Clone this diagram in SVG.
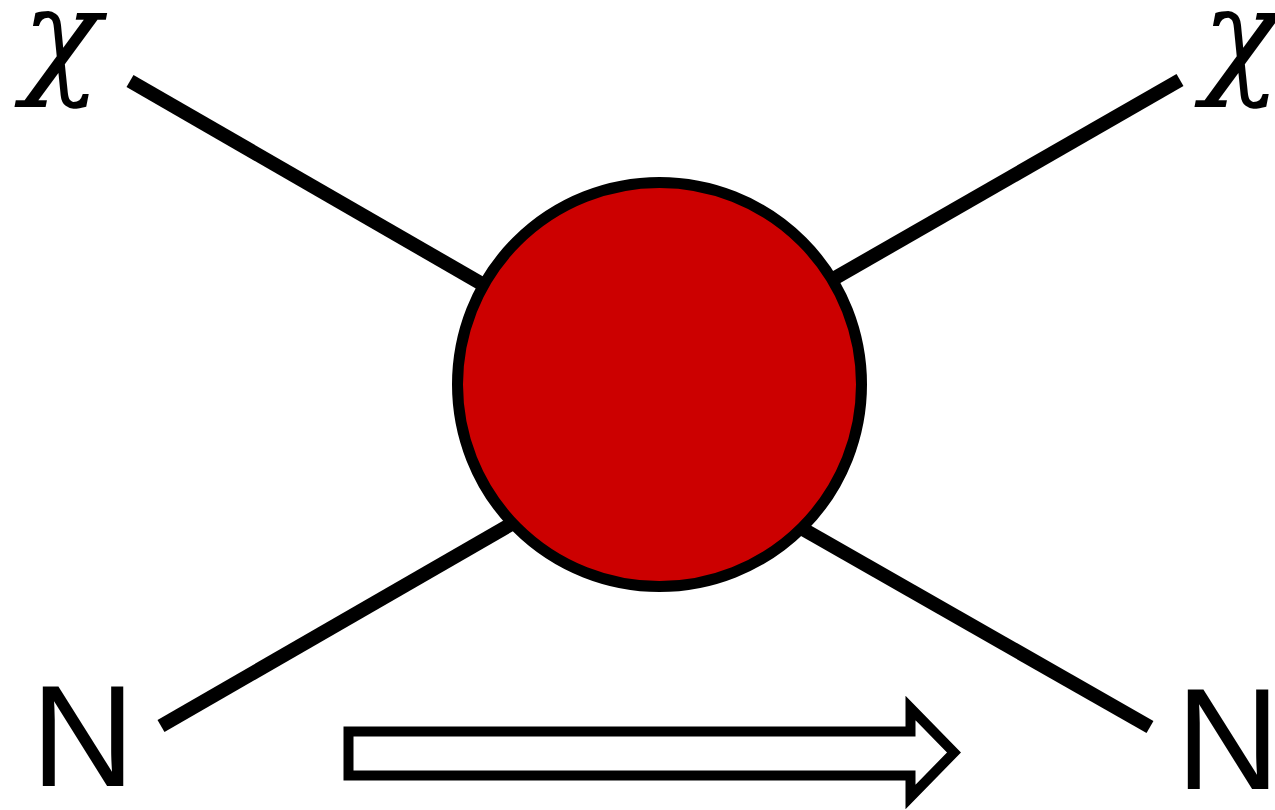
<svg xmlns="http://www.w3.org/2000/svg" width="1275" height="810" viewBox="0 0 1275 810">
<style>
.leg{stroke:#000;stroke-width:14;stroke-linecap:butt;fill:none}
.chi{font-family:"DejaVu Serif",serif;font-style:italic;font-size:130px;fill:#000}
.nuc{font-family:"Liberation Sans",Arial,sans-serif;font-size:144px;fill:#000}
</style>
<rect width="1275" height="810" fill="#fff"/>
<g id="connectors">
<line class="leg" x1="130" y1="81" x2="659" y2="386"/>
<line class="leg" x1="1180" y1="80" x2="659" y2="379"/>
<line class="leg" x1="161" y1="726" x2="659" y2="439"/>
<line class="leg" x1="1150" y1="727" x2="659" y2="447"/>
</g>
<g id="vertex">
<circle cx="659.5" cy="384.5" r="202" fill="#cc0000" stroke="#000" stroke-width="11"/>
</g>
<g id="chi-in"><text class="chi" x="22" y="80">χ</text></g>
<g id="chi-out"><text class="chi" x="1202" y="80">χ</text></g>
<g id="N-in"><text class="nuc" x="31" y="786">N</text></g>
<g id="N-out"><text class="nuc" x="1176" y="789">N</text></g>
<g id="arrow">
<path d="M348.5,731.5 H910.5 V708 L954,752.5 L910.5,797 V775.5 H348.5 Z" fill="#fff" stroke="#000" stroke-width="10" stroke-linejoin="miter" stroke-miterlimit="10"/>
</g>
</svg>
